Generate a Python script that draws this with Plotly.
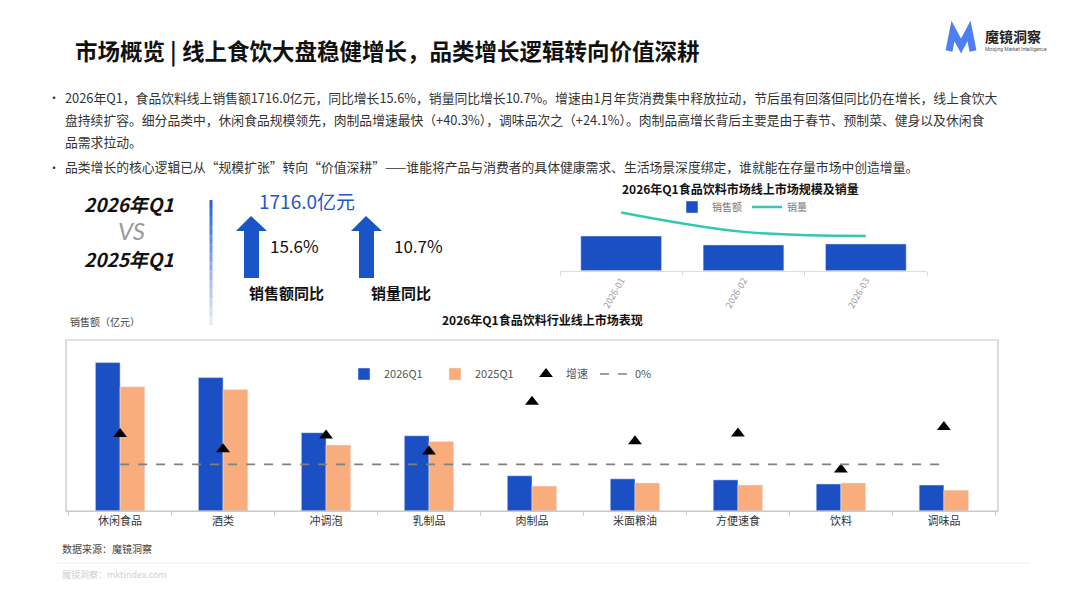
"""
Q1 2026 online food & beverage market overview - single slide in Plotly
"""

import plotly.graph_objects as go

# ── Data ──────────────────────────────────────────────────────────────────
categories = ["休闲食品", "酒类", "冲调泡", "乳制品", "肉制品", "米面粮油", "方便速食", "饮料", "调味品"]
sales_2026q1 = [434, 390, 229, 220, 103, 94, 91, 79, 76]      # 亿元
sales_2025q1 = [363, 355, 193, 203, 73, 82, 76, 82, 61]       # 亿元
growth = [19.6, 9.8, 18.5, 8.2, 40.3, 14.8, 19.8, -3.3, 24.1]  # %

months = ["2026-01", "2026-02", "2026-03"]
month_sales = [682.5, 507.0, 526.5]   # 亿元
month_volume = [12.6, 8.4, 7.5]       # 亿件 (estimated)

# ── Page helpers ──────────────────────────────────────────────────────────
# the page body has an 8px margin, so the figure is 8px smaller and every
# coordinate below is given in window pixels and shifted back by 8
OFF = 8
W, H = 1067 - OFF, 600 - OFF
FONT = "Noto Sans CJK SC"
BLUE = "#1a50c4"
ORANGE = "#f9ad7c"
TEAL = "#34c8b3"


def px(x):
    return (x - OFF) / W


def py(y):
    return 1 - (y - OFF) / H


def path(points, close=True):
    s = "M " + " L ".join(f"{px(x):.5f},{py(y):.5f}" for x, y in points)
    return s + " Z" if close else s


fig = go.Figure()

# ── Small chart: monthly sales + volume ───────────────────────────────────
fig.add_trace(go.Bar(
    x=months, y=month_sales, name="销售额",
    marker_color=BLUE, width=0.66, offset=-0.33,
    xaxis="x2", yaxis="y3", legend="legend2",
))
fig.add_trace(go.Scatter(
    x=months, y=month_volume, name="销量", mode="lines",
    line=dict(color=TEAL, width=2.5, shape="spline", smoothing=1.0),
    xaxis="x2", yaxis="y4", legend="legend2",
))

# ── Main chart: category sales + growth ───────────────────────────────────
fig.add_trace(go.Bar(
    x=categories, y=sales_2026q1, name="2026Q1",
    marker_color=BLUE, width=0.24, offset=-0.24,
    xaxis="x", yaxis="y",
))
fig.add_trace(go.Bar(
    x=categories, y=sales_2025q1, name="2025Q1",
    marker_color=ORANGE, width=0.24, offset=0,
    xaxis="x", yaxis="y",
))
fig.add_trace(go.Scatter(
    x=categories, y=growth, name="增速", mode="markers",
    marker=dict(symbol="triangle-up", size=12, color="black"),
    xaxis="x", yaxis="y2",
))
fig.add_trace(go.Scatter(
    x=categories, y=[0] * len(categories), name="0%", mode="lines",
    line=dict(color="#808080", width=1.6, dash="dash"),
    xaxis="x", yaxis="y2", legend="legend3",
))

# ── Text ──────────────────────────────────────────────────────────────────
ann = []


def text(x, y, s, size=12, color="#333", bold=False, italic=False, anchor="left", family=FONT):
    if bold:
        s = f"<b>{s}</b>"
    if italic:
        s = f"<i>{s}</i>"
    ann.append(dict(
        x=px(x), y=py(y), xref="paper", yref="paper", text=s, showarrow=False,
        xanchor=anchor, yanchor="middle", font=dict(size=size, color=color, family=family),
    ))


text(73, 50, "市场概览 | 线上食饮大盘稳健增长，品类增长逻辑转向价值深耕", size=22.5, color="#111", bold=True)

text(983, 36, "魔镜洞察", size=14, color="#222", bold=True)
text(983, 49, "Moojing Market Intelligence", size=5, color="#555", family="Roboto")

bullet_lines = [
    (97, True, "2026年Q1，食品饮料线上销售额1716.0亿元，同比增长15.6%，销量同比增长10.7%。增速由1月年货消费集中释放拉动，节后虽有回落但同比仍在增长，线上食饮大"),
    (119, False, "盘持续扩容。细分品类中，休闲食品规模领先，肉制品增速最快（+40.3%），调味品次之（+24.1%）。肉制品高增长背后主要是由于春节、预制菜、健身以及休闲食"),
    (141, False, "品需求拉动。"),
    (166, True, "品类增长的核心逻辑已从“规模扩张”转向“价值深耕”——谁能将产品与消费者的具体健康需求、生活场景深度绑定，谁就能在存量市场中创造增量。"),
]
for y, has_bullet, s in bullet_lines:
    if has_bullet:
        text(46, y + 1, "·", size=12, color="#333")
    text(63, y, s, size=12.8, color="#333")

# KPI block
text(129, 203, "2026年Q1", size=19, color="#111", bold=True, italic=True, anchor="center")
text(131, 230, "VS", size=24, color="#999", italic=True, anchor="center", family="Lato")
text(129, 258, "2025年Q1", size=19, color="#111", bold=True, italic=True, anchor="center")
text(307, 201, "1716.0亿元", size=19, color="#2457c5", anchor="center")
text(294, 246, "15.6%", size=17, color="#111", anchor="center")
text(418, 246, "10.7%", size=17, color="#111", anchor="center")
text(286, 292, "销售额同比", size=15, color="#111", bold=True, anchor="center")
text(401, 293, "销量同比", size=15, color="#111", bold=True, anchor="center")

# chart titles / notes
text(740, 188, "2026年Q1食品饮料市场线上市场规模及销量", size=12, color="#111", bold=True, anchor="center")
text(542, 319, "2026年Q1食品饮料行业线上市场表现", size=12, color="#111", bold=True, anchor="center")
text(68, 321, "销售额（亿元）", size=10, color="#444")

# footer
text(60, 548, "数据来源：魔镜洞察", size=10, color="#444")
text(60, 574, "魔镜洞察：mktindex.com", size=9, color="#cfcfcf")

# ── Shapes ────────────────────────────────────────────────────────────────
shapes = []

# logo "M"
shapes.append(dict(
    type="path", xref="paper", yref="paper",
    path=path([(949, 51), (953, 31), (961, 46), (969, 31), (973, 51)], close=False),
    line=dict(color="#4d7ff0", width=7), fillcolor="rgba(0,0,0,0)",
))

# up arrows
for cx in (251, 366):
    shapes.append(dict(
        type="path", xref="paper", yref="paper",
        path=path([(cx, 216), (cx + 16, 231), (cx + 8, 231), (cx + 8, 278),
                   (cx - 7, 278), (cx - 7, 231), (cx - 15, 231)]),
        fillcolor="#1a55c8", line=dict(width=0),
    ))

# gradient divider
n_seg = 14
for i in range(n_seg):
    t = i / (n_seg - 1)
    r = int(40 + t * (225 - 40))
    g = int(100 + t * (235 - 100))
    b = int(210 + t * (250 - 210))
    y0 = 200 + i * 125 / n_seg
    shapes.append(dict(
        type="line", xref="paper", yref="paper",
        x0=px(211), x1=px(211), y0=py(y0), y1=py(y0 + 125 / n_seg),
        line=dict(color=f"rgb({r},{g},{b})", width=3),
    ))

# main chart frame
shapes.append(dict(
    type="rect", xref="x domain", yref="y domain", x0=0, x1=1, y0=0, y1=1,
    line=dict(color="#c4c4c4", width=1.2),
))

# footer rule
shapes.append(dict(
    type="line", xref="paper", yref="paper",
    x0=px(57), x1=px(1030), y0=py(563), y1=py(563),
    line=dict(color="#eeeeee", width=1),
))

# ── Layout ────────────────────────────────────────────────────────────────
legend_font = dict(size=11, color="#555")
fig.update_layout(
    width=W, height=H,
    margin=dict(l=0, r=0, t=0, b=0),
    paper_bgcolor="white", plot_bgcolor="white",
    font=dict(family=FONT, color="#333"),
    barmode="overlay",
    xaxis=dict(
        domain=[px(66), px(998)], anchor="y", type="category",
        tickfont=dict(size=11, color="#333"),
        showline=True, linecolor="#d0d0d0",
        ticks="outside", tickson="boundaries", ticklen=4, tickcolor="#d0d0d0",
        showgrid=False, zeroline=False,
    ),
    yaxis=dict(domain=[py(511), py(340)], range=[0, 500], visible=False),
    yaxis2=dict(overlaying="y", anchor="x", range=[-30, 80], visible=False),
    xaxis2=dict(
        domain=[px(560), px(927)], anchor="y3", type="category",
        tickangle=-60, tickfont=dict(size=9, color="#999"),
        showline=True, linecolor="#dddddd",
        ticks="outside", tickson="boundaries", ticklen=4, tickcolor="#dddddd",
        showgrid=False, zeroline=False,
    ),
    yaxis3=dict(domain=[py(270.7), py(204.6)], anchor="x2", range=[0, 1300], visible=False),
    yaxis4=dict(overlaying="y3", anchor="x2", range=[0, 14.3], visible=False),
    legend=dict(
        orientation="h", x=px(344), y=py(374), xanchor="left", yanchor="middle",
        font=legend_font, bgcolor="rgba(0,0,0,0)",
        entrywidth=46, traceorder="normal",
    ),
    legend3=dict(
        orientation="h", x=px(595), y=py(374), xanchor="left", yanchor="middle",
        font=legend_font, bgcolor="rgba(0,0,0,0)",
    ),
    legend2=dict(
        orientation="h", x=px(742), y=py(207), xanchor="center", yanchor="middle",
        font=dict(size=10, color="#777"), bgcolor="rgba(0,0,0,0)",
    ),
    annotations=ann,
    shapes=shapes,
)

fig.write_html("out.html")
